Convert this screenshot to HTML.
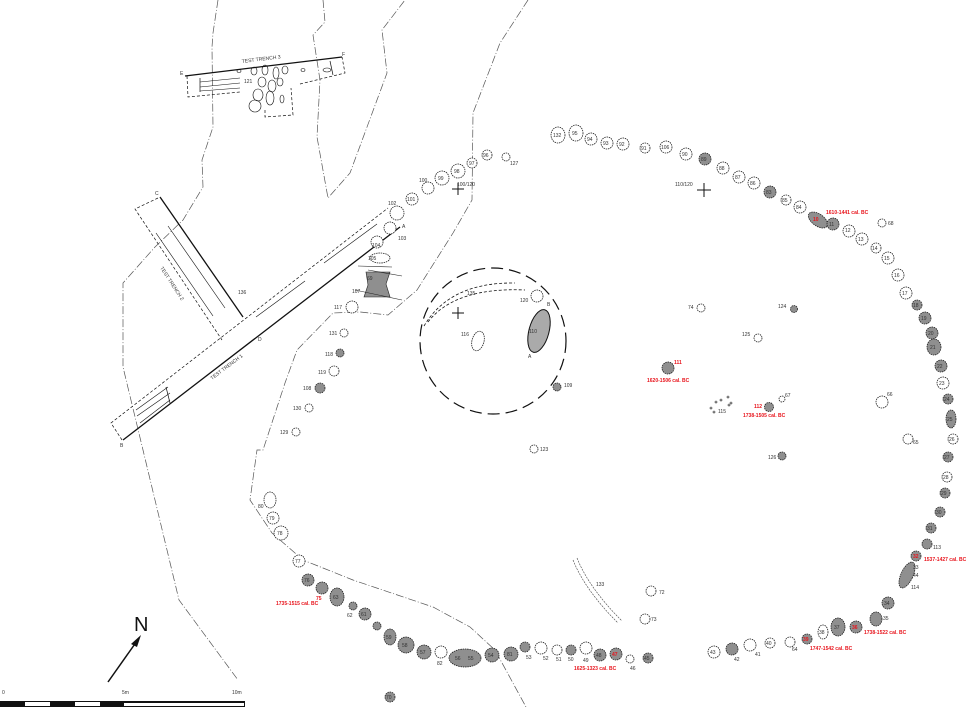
<!DOCTYPE html>
<html><head><meta charset="utf-8"><style>
html,body{margin:0;padding:0;background:#fff;}
svg{display:block;}
text{font-family:"Liberation Sans",sans-serif;font-size:5px;fill:#333;}
.r{fill:#e8141c;font-weight:bold;font-size:5px;}
.w{fill:#fff;stroke:#222;stroke-width:0.8;stroke-dasharray:1.5 0.8;}
.g{fill:#8f8f8f;stroke:#222;stroke-width:0.8;stroke-dasharray:1.5 0.8;}
.b{fill:none;stroke:#555;stroke-width:0.7;stroke-dasharray:8 2 1 2;}
</style></head><body>
<svg width="970" height="707" viewBox="0 0 970 707" xmlns="http://www.w3.org/2000/svg">
<!-- boundary dash-dot lines -->
<polyline class="b" points="218,0 213,33 212,47 213,127 202,160 203,187 183,220 155,247 123,283 123,367 143,450 179,600 238,680"/>
<polyline class="b" points="323,0 325,22 313,35 320,80 317,137 328,198 350,173 387,73 382,30 405,0"/>
<polyline class="b" points="528,0 500,43 473,113 472,200 453,233 417,290 388,315 360,312 333,313 297,350 285,383 263,450 257,450 250,500 272,533 303,560 353,580 433,607 470,627 495,650 526,707"/>

<!-- Test trench 3 -->
<g stroke="#111" fill="none">
<line x1="185" y1="76" x2="342" y2="57" stroke-width="1.3"/>
<polyline points="187,76 188,97 240,92" stroke-dasharray="3 2" stroke-width="0.7"/>
<polyline points="300,84 345,73 342,57" stroke-dasharray="3 2" stroke-width="0.7"/>
<polyline points="265,110 265,117 293,115 291,88" stroke-dasharray="3 2" stroke-width="0.7"/>
<line x1="200" y1="78" x2="200" y2="92" stroke-width="0.7"/>
<line x1="200" y1="82" x2="240" y2="78" stroke-width="0.6"/>
<line x1="200" y1="87" x2="240" y2="83" stroke-width="0.6"/>
<line x1="200" y1="91" x2="240" y2="88" stroke-width="0.6"/>
<line x1="330" y1="61" x2="333" y2="75" stroke-width="0.7"/>
<g stroke-width="0.6">
<ellipse cx="254" cy="71" rx="3" ry="4"/><ellipse cx="265" cy="70" rx="3" ry="5"/><ellipse cx="276" cy="73" rx="3" ry="6"/>
<ellipse cx="285" cy="70" rx="3" ry="4"/><ellipse cx="262" cy="82" rx="4" ry="5"/><ellipse cx="272" cy="86" rx="4" ry="6"/>
<ellipse cx="258" cy="95" rx="5" ry="6"/><ellipse cx="270" cy="98" rx="4" ry="7"/><ellipse cx="255" cy="106" rx="6" ry="6"/>
<ellipse cx="282" cy="99" rx="2" ry="4"/><ellipse cx="280" cy="82" rx="3" ry="4"/><ellipse cx="303" cy="70" rx="2" ry="1.5"/>
<ellipse cx="327" cy="70" rx="4" ry="2"/><ellipse cx="239" cy="71" rx="2" ry="1.5"/>
</g></g>
<text x="242" y="63" transform="rotate(-7 242 63)">TEST TRENCH 3</text>
<text x="180" y="75">E</text><text x="342" y="56">F</text><text x="244" y="83">121</text>

<!-- Test trench 2 -->
<g stroke="#111" fill="none">
<line x1="160" y1="197" x2="243" y2="317" stroke-width="1.3"/>
<polyline points="158,198 135,209 222,340" stroke-dasharray="3 2" stroke-width="0.7"/>
<line x1="168" y1="226" x2="225" y2="308" stroke-width="0.6"/>
<line x1="156" y1="233" x2="213" y2="316" stroke-width="0.6"/>
</g>
<text x="160" y="268" transform="rotate(57 160 268)">TEST TRENCH 2</text>
<text x="155" y="195">C</text><text x="238" y="294">136</text>

<!-- Test trench 1 -->
<g stroke="#111" fill="none">
<line x1="123" y1="440" x2="400" y2="227" stroke-width="1.3"/>
<polyline points="122,440 111,423 388,208" stroke-dasharray="3 2" stroke-width="0.7"/>
<line x1="256" y1="317" x2="305" y2="281" stroke-width="0.6"/>
<line x1="324" y1="263" x2="377" y2="224" stroke-width="0.6"/>
<line x1="166" y1="387" x2="170" y2="403" stroke-width="0.7"/>
<line x1="136" y1="410" x2="168" y2="387" stroke-width="0.6"/>
<line x1="137" y1="416" x2="170" y2="393" stroke-width="0.6"/>
<line x1="140" y1="423" x2="170" y2="400" stroke-width="0.6"/>
</g>
<text x="212" y="380" transform="rotate(-37 212 380)">TEST TRENCH 1</text>
<text x="120" y="447">B</text><text x="258" y="341">D</text><text x="402" y="228">A</text>

<!-- feature 69 -->
<path d="M366,272 L390,272 L386,284 L390,297 L364,297 L368,285 Z" fill="#8f8f8f" stroke="#222" stroke-width="0.6"/>
<line x1="358" y1="266" x2="392" y2="267" stroke="#222" stroke-width="0.6"/>
<line x1="355" y1="290" x2="402" y2="300" stroke="#222" stroke-width="0.6"/>
<line x1="368" y1="270" x2="402" y2="276" stroke="#222" stroke-width="0.6"/>
<text x="367" y="280">69</text><text x="352" y="293">107</text>

<!-- circle 135 -->
<circle cx="493" cy="341" r="73" fill="none" stroke="#111" stroke-width="1.2" stroke-dasharray="12 6"/>
<path d="M424,326 Q450,282 515,283" fill="none" stroke="#111" stroke-width="0.8" stroke-dasharray="3 2"/>
<path d="M428,322 Q455,287 525,290" fill="none" stroke="#111" stroke-width="0.8" stroke-dasharray="3 2"/>
<text x="467" y="295">135</text>
<ellipse cx="539" cy="331" rx="10" ry="22" transform="rotate(15 539 331)" fill="#aaa" stroke="#111" stroke-width="1"/>
<text x="529" y="333">110</text><text x="547" y="306">B</text><text x="528" y="358">A</text>
<ellipse cx="478" cy="341" rx="6" ry="10" transform="rotate(15 478 341)" class="w"/>
<text x="461" y="336">116</text>

<!-- crosses -->
<g stroke="#111" stroke-width="1">
<line x1="452" y1="313" x2="464" y2="313"/><line x1="458" y1="307" x2="458" y2="319"/>
<line x1="452" y1="189" x2="464" y2="189"/><line x1="458" y1="183" x2="458" y2="195"/>
<line x1="697" y1="190" x2="711" y2="190"/><line x1="704" y1="183" x2="704" y2="197"/>
</g>
<text x="457" y="186">100/120</text><text x="675" y="186">110/120</text>

<!-- NW posts -->
<circle class="w" cx="442" cy="178" r="7"/><text x="438" y="180">99</text>
<circle class="w" cx="458" cy="171" r="7"/><text x="454" y="173">98</text>
<circle class="w" cx="472" cy="163" r="5"/><text x="469" y="165">97</text>
<circle class="w" cx="487" cy="155" r="5"/><text x="483" y="157">96</text>
<circle class="w" cx="506" cy="157" r="4"/><text x="510" y="165">127</text>
<circle class="w" cx="428" cy="188" r="6"/><text x="419" y="182">100</text>
<circle class="w" cx="412" cy="199" r="6"/><text x="407" y="201">101</text>
<circle class="w" cx="397" cy="213" r="7"/><text x="388" y="205">102</text>
<circle class="w" cx="390" cy="228" r="6"/><text x="398" y="240">103</text>
<circle class="w" cx="377" cy="242" r="6"/><text x="372" y="247">104</text>
<ellipse class="w" cx="380" cy="258" rx="10" ry="5"/><text x="368" y="260">105</text>
<circle class="w" cx="352" cy="307" r="6"/><text x="334" y="309">117</text>
<circle class="w" cx="344" cy="333" r="4"/><text x="329" y="335">131</text>
<circle class="g" cx="340" cy="353" r="4"/><text x="325" y="356">118</text>
<circle class="w" cx="334" cy="371" r="5"/><text x="318" y="374">119</text>
<circle class="g" cx="320" cy="388" r="5"/><text x="303" y="390">108</text>
<circle class="w" cx="309" cy="408" r="4"/><text x="293" y="410">130</text>
<circle class="w" cx="296" cy="432" r="4"/><text x="280" y="434">129</text>
<circle class="w" cx="537" cy="296" r="6"/><text x="520" y="302">120</text>
<circle class="g" cx="557" cy="387" r="4"/><text x="564" y="387">109</text>
<circle class="w" cx="534" cy="449" r="4"/><text x="540" y="451">123</text>

<!-- top arc -->
<ellipse class="w" cx="558" cy="135" rx="7" ry="8"/><text x="553" y="137">132</text>
<ellipse class="w" cx="576" cy="133" rx="7" ry="8"/><text x="572" y="135">95</text>
<circle class="w" cx="591" cy="139" r="6"/><text x="587" y="141">94</text>
<circle class="w" cx="607" cy="143" r="6"/><text x="603" y="145">93</text>
<circle class="w" cx="623" cy="144" r="6"/><text x="619" y="146">92</text>
<circle class="w" cx="645" cy="148" r="5"/><text x="641" y="150">91</text>
<circle class="w" cx="666" cy="147" r="6"/><text x="661" y="149">106</text>
<circle class="w" cx="686" cy="154" r="6"/><text x="682" y="156">90</text>
<circle class="g" cx="705" cy="159" r="6"/><text x="701" y="161">89</text>
<circle class="w" cx="723" cy="168" r="6"/><text x="719" y="170">88</text>
<circle class="w" cx="739" cy="177" r="6"/><text x="735" y="179">87</text>
<circle class="w" cx="754" cy="183" r="6"/><text x="750" y="185">86</text>
<circle class="g" cx="770" cy="192" r="6"/><text x="766" y="194">83</text>
<circle class="w" cx="786" cy="200" r="5"/><text x="782" y="202">85</text>
<circle class="w" cx="800" cy="207" r="6"/><text x="796" y="209">84</text>
<ellipse class="g" cx="818" cy="220" rx="11" ry="6" transform="rotate(35 818 220)"/><text class="r" x="813" y="221">10</text>
<text class="r" x="826" y="214">1610-1441 cal. BC</text>
<circle class="g" cx="833" cy="224" r="6"/><text x="829" y="226">11</text>
<circle class="w" cx="849" cy="231" r="6"/><text x="845" y="232">12</text>
<circle class="w" cx="882" cy="223" r="4"/><text x="888" y="225">68</text>
<circle class="w" cx="862" cy="239" r="6"/><text x="858" y="241">13</text>
<circle class="w" cx="876" cy="248" r="5"/><text x="872" y="250">14</text>
<circle class="w" cx="888" cy="258" r="6"/><text x="884" y="260">15</text>
<circle class="w" cx="898" cy="275" r="6"/><text x="894" y="277">16</text>
<circle class="w" cx="906" cy="293" r="6"/><text x="902" y="295">17</text>
<circle class="g" cx="917" cy="305" r="5"/><text x="913" y="307">18</text>
<circle class="g" cx="925" cy="318" r="6"/><text x="921" y="320">19</text>
<circle class="g" cx="932" cy="333" r="6"/><text x="928" y="335">20</text>
<ellipse class="g" cx="934" cy="347" rx="7" ry="8"/><text x="930" y="349">21</text>
<circle class="g" cx="941" cy="366" r="6"/><text x="937" y="368">22</text>
<circle class="w" cx="943" cy="383" r="6"/><text x="939" y="385">23</text>
<circle class="g" cx="948" cy="399" r="5"/><text x="944" y="401">24</text>
<ellipse class="g" cx="951" cy="419" rx="5" ry="9"/><text x="947" y="421">25</text>
<circle class="w" cx="953" cy="439" r="5"/><text x="949" y="441">26</text>
<circle class="g" cx="948" cy="457" r="5"/><text x="944" y="459">27</text>
<circle class="w" cx="947" cy="477" r="5"/><text x="943" y="479">28</text>
<circle class="g" cx="945" cy="493" r="5"/><text x="941" y="495">29</text>
<circle class="g" cx="940" cy="512" r="5"/><text x="936" y="514">30</text>
<circle class="g" cx="931" cy="528" r="5"/><text x="927" y="530">31</text>
<circle class="g" cx="927" cy="544" r="5"/><text x="933" y="549">113</text>
<circle class="g" cx="916" cy="556" r="5"/><text class="r" x="913" y="558">32</text>
<text class="r" x="924" y="561">1537-1427 cal. BC</text>
<ellipse class="g" cx="907" cy="575" rx="6" ry="14" transform="rotate(25 907 575)"/>
<text x="913" y="569">33</text><text x="913" y="577">44</text><text x="911" y="589">114</text>
<circle class="g" cx="888" cy="603" r="6"/><text x="884" y="605">34</text>
<ellipse class="g" cx="876" cy="619" rx="6" ry="7"/><text x="883" y="620">35</text>
<circle class="g" cx="856" cy="627" r="6"/><text class="r" x="852" y="629">36</text>
<text class="r" x="864" y="634">1738-1522 cal. BC</text>
<ellipse class="g" cx="838" cy="627" rx="7" ry="9"/><text x="834" y="629">37</text>
<ellipse class="w" cx="823" cy="632" rx="5" ry="7"/><text x="819" y="634">38</text>
<circle class="g" cx="807" cy="639" r="5"/><text class="r" x="803" y="641">39</text>
<text class="r" x="810" y="650">1747-1542 cal. BC</text>
<circle class="w" cx="790" cy="642" r="5"/><text x="792" y="651">64</text>
<circle class="w" cx="770" cy="643" r="5"/><text x="766" y="645">40</text>
<circle class="w" cx="750" cy="645" r="6"/><text x="755" y="656">41</text>
<circle class="g" cx="732" cy="649" r="6"/><text x="734" y="661">42</text>
<circle class="w" cx="714" cy="652" r="6"/><text x="710" y="654">43</text>

<!-- interior east -->
<circle class="w" cx="701" cy="308" r="4"/><text x="688" y="309">74</text>
<circle class="g" cx="794" cy="309" r="3.5"/><text x="778" y="308">124</text>
<circle class="w" cx="758" cy="338" r="4"/><text x="742" y="336">125</text>
<circle class="g" cx="668" cy="368" r="6"/><text class="r" x="674" y="364">111</text>
<text class="r" x="647" y="382">1620-1506 cal. BC</text>
<circle class="g" cx="769" cy="407" r="4.5"/><text class="r" x="754" y="408">112</text>
<text class="r" x="743" y="417">1738-1505 cal. BC</text>
<circle class="w" cx="782" cy="399" r="3"/><text x="785" y="397">67</text>
<g fill="none" stroke="#222" stroke-width="0.6"><circle cx="711" cy="408" r="1"/><circle cx="716" cy="402" r="1"/><circle cx="721" cy="400" r="1"/><circle cx="728" cy="397" r="1"/><circle cx="729" cy="405" r="1"/><circle cx="714" cy="412" r="1"/><circle cx="731" cy="403" r="1"/></g>
<text x="718" y="413">115</text>
<circle class="w" cx="882" cy="402" r="6"/><text x="887" y="396">66</text>
<circle class="w" cx="908" cy="439" r="5"/><text x="913" y="444">65</text>
<circle class="g" cx="782" cy="456" r="4"/><text x="768" y="459">126</text>

<!-- 133, 72, 73 -->
<path d="M573,560 Q585,590 618,623" fill="none" stroke="#444" stroke-width="0.6" stroke-dasharray="2 1"/>
<path d="M577,558 Q589,588 622,621" fill="none" stroke="#444" stroke-width="0.6" stroke-dasharray="2 1"/>
<text x="596" y="586">133</text>
<circle class="w" cx="651" cy="591" r="5"/><text x="659" y="594">72</text>
<circle class="w" cx="645" cy="619" r="5"/><text x="651" y="621">73</text>

<!-- SW/bottom arc -->
<ellipse class="w" cx="270" cy="500" rx="6" ry="8"/><text x="258" y="508">80</text>
<circle class="w" cx="273" cy="518" r="6"/><text x="269" y="520">79</text>
<circle class="w" cx="281" cy="533" r="7"/><text x="277" y="535">78</text>
<circle class="w" cx="299" cy="561" r="6"/><text x="295" y="563">77</text>
<circle class="g" cx="308" cy="580" r="6"/><text x="304" y="582">76</text>
<circle class="g" cx="322" cy="588" r="6"/><text class="r" x="316" y="600">75</text>
<text class="r" x="276" y="605">1735-1515 cal. BC</text>
<ellipse class="g" cx="337" cy="597" rx="7" ry="9"/><text x="333" y="599">63</text>
<circle class="g" cx="353" cy="606" r="4"/><text x="347" y="617">62</text>
<circle class="g" cx="365" cy="614" r="6"/><text x="361" y="616">61</text>
<circle class="g" cx="377" cy="626" r="4"/>
<ellipse class="g" cx="390" cy="637" rx="6" ry="8"/><text x="386" y="639">59</text>
<circle class="g" cx="406" cy="645" r="8"/><text x="402" y="647">58</text>
<circle class="g" cx="424" cy="652" r="7"/><text x="420" y="654">57</text>
<circle class="w" cx="441" cy="652" r="6"/><text x="437" y="665">82</text>
<ellipse class="g" cx="465" cy="658" rx="16" ry="9"/><text x="455" y="660">56</text><text x="468" y="660">55</text>
<circle class="g" cx="492" cy="655" r="7"/><text x="488" y="657">54</text>
<circle class="g" cx="511" cy="654" r="7"/><text x="507" y="656">81</text>
<circle class="g" cx="525" cy="647" r="5"/><text x="526" y="659">53</text>
<circle class="w" cx="541" cy="648" r="6"/><text x="543" y="660">52</text>
<circle class="w" cx="557" cy="650" r="5"/><text x="556" y="661">51</text>
<circle class="g" cx="571" cy="650" r="5"/><text x="568" y="661">50</text>
<circle class="w" cx="586" cy="648" r="6"/><text x="583" y="662">49</text>
<circle class="g" cx="600" cy="655" r="6"/><text x="596" y="657">48</text>
<circle class="g" cx="616" cy="654" r="6"/><text class="r" x="612" y="656">47</text>
<text class="r" x="574" y="670">1625-1323 cal. BC</text>
<circle class="w" cx="630" cy="659" r="4"/><text x="630" y="670">46</text>
<circle class="g" cx="648" cy="658" r="5"/><text x="644" y="660">45</text>
<circle class="g" cx="390" cy="697" r="5"/><text x="386" y="699">70</text>

<!-- North arrow -->
<line x1="108" y1="682" x2="137" y2="641" stroke="#111" stroke-width="1.5"/>
<polygon points="141,635 131,644 137,647" fill="#111"/>
<text x="134" y="631" style="font-size:20px;fill:#111">N</text>

<!-- scale bar -->
<text x="2" y="694">0</text><text x="122" y="694">5m</text><text x="232" y="694">10m</text>
<rect x="0.5" y="701.5" width="244" height="5" fill="#fff" stroke="#111" stroke-width="1"/>
<rect x="0" y="701" width="25" height="6" fill="#111"/>
<rect x="50" y="701" width="25" height="6" fill="#111"/>
<rect x="100" y="701" width="24" height="6" fill="#111"/>
<rect x="124" y="701" width="121" height="2" fill="#111"/>
</svg>
</body></html>
